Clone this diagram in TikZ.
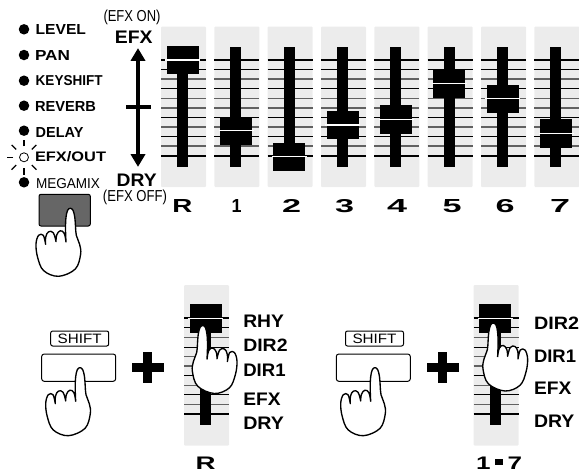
\documentclass[tikz,border=0pt]{standalone}
\usepackage{fontspec}
\usepackage{graphicx}
\usetikzlibrary{calc}
\setmainfont{Liberation Sans}
\definecolor{strip}{HTML}{ECECEC}
\definecolor{btn}{HTML}{666666}
% fitted text: width, height, text
\newcommand\fittext[3]{\resizebox{#1pt}{#2pt}{#3}}
\newcommand\hairs[2]{%
  \foreach \k/\st in {0/lthick,1/lthin,2/lgray,3/lthin,4/lgray,5/lgray,6/lthin,7/lgray,8/lthin,9/lgray,10/lthick}{
    \draw[\st] (#1,{#2+\k*9.57}) -- (#1+45,{#2+\k*9.57});
  }}
\newcommand\faderbody[4]{% x, strip top, line top, white y
  \fill[strip,rounded corners=1pt] (#1,#2) rectangle (#1+45,#2+160.5);
  \hairs{#1}{#3}
  \fill[black] (#1+16,#3-13.3) rectangle (#1+27,#3+106.7);
  \fill[black] (#1+5.6,#4-14) rectangle (#1+37.6,#4+14.4);
  \draw[white,line width=1.3] (#1+4.2,#4) -- (#1+39.2,#4);
}
\newcommand\handshape[3]{% x, y, xscale
  \begin{scope}[shift={(#1,#2)},xscale=#3]
  \draw[handline] plot[smooth,tension=.6] coordinates {(-4.3,34) (-4.8,20) (-4.3,9) (-2.7,2) (0,0) (2.7,2) (4.5,9) (5.2,18) (6,27) (9.3,36) (10.3,46) (5,60.7) (-11.7,68) (-26.7,62.3) (-32.7,49) (-34.3,35.7) (-31.7,27) (-27,27) (-24.7,36)}
   -- plot[smooth,tension=.7] coordinates {(-24.7,36) (-24.5,28.5) (-21.7,23.5) (-17,24.5) (-14.3,33.3)}
   -- plot[smooth,tension=.7] coordinates {(-14.3,33.3) (-13.5,26.5) (-10,22.5) (-6,25.2) (-4.3,34)};
  \end{scope}
}
\newcommand\plusmark[1]{%
  \fill[black] (#1,363.3) rectangle (#1+32.3,371.7);
  \fill[black] (#1+11.7,351.7) rectangle (#1+20,383.3);
}
\begin{document}
\begin{tikzpicture}[x=1pt,y=-1pt,
  lthick/.style={black,line width=1.7},
  lthin/.style={black,line width=.9},
  lgray/.style={black!62,line width=1.4},
  handline/.style={draw=black,fill=white,line width=1.35,line join=round},
  txt/.style={inner sep=0pt,outer sep=0pt,anchor=west,font=\bfseries},
  ctr/.style={inner sep=0pt,outer sep=0pt,anchor=center},
  ledon/.style={fill=black,draw=none,circle,minimum size=10.5pt,inner sep=0pt},
  ledoff/.style={draw=black,fill=white,circle,minimum size=9pt,inner sep=0pt,line width=.8},
  ray/.style={black,line width=1.2},
  keybox/.style={draw=black,fill=white,rounded corners=2.5pt,line width=1},
  glyph/.style={inner sep=0pt,outer sep=0pt,anchor=center,font=\bfseries}]
\useasboundingbox (0,0) rectangle (579,472);
% top faders
\faderbody{161}{26.5}{60}{60}
\faderbody{214.3}{26.5}{60}{130.7}
\faderbody{267.7}{26.5}{60}{156.7}
\faderbody{321}{26.5}{60}{125}
\faderbody{374.3}{26.5}{60}{119.3}
\faderbody{427.7}{26.5}{60}{83.7}
\faderbody{481}{26.5}{60}{98.7}
\faderbody{534.3}{26.5}{60}{133.3}
% fader captions
\node[glyph] (cR) at (182.5,206) {\fittext{20}{13}{R}};
\node[glyph] (c1) at (236.7,206) {\fittext{10}{13}{1}};
\node[glyph] (c2) at (291.7,206) {\fittext{19}{13}{2}};
\node[glyph] (c3) at (344.7,206) {\fittext{19}{13}{3}};
\node[glyph] (c4) at (397,206) {\fittext{20}{13}{4}};
\node[glyph] (c5) at (452,206) {\fittext{19}{13}{5}};
\node[glyph] (c6) at (505,206) {\fittext{19}{13}{6}};
\node[glyph] (c7) at (560,206) {\fittext{20}{13}{7}};
% LED list
\foreach \n/\y in {a/29.3,b/55,c/80.7,d/105.7,e/130.7,g/182.3}{
  \node[ledon] (led\n) at (24,\y) {};
}
\node[ledoff] (ledf) at (24,157.3) {};
\foreach \a in {45,90,...,315}{
  \draw[ray] ($(ledf.center)+(\a:11)$) -- ($(ledf.center)+(\a:17.5)$);
}
\node[txt] (lLevel) at (35.7,29.3) {\fittext{50.3}{10}{LEVEL}};
\node[txt] (lPan) at (35,55) {\fittext{35}{10}{PAN}};
\node[txt] (lKey) at (35.7,80.7) {\fittext{67}{10}{KEYSHIFT}};
\node[txt] (lRev) at (35,106) {\fittext{61}{10}{REVERB}};
\node[txt] (lDel) at (35.7,132) {\fittext{47.7}{10}{DELAY}};
\node[txt] (lEfx) at (35,156.7) {\fittext{71}{10}{EFX/OUT}};
\node[txt,font=\normalfont] (lMeg) at (36,183.7) {\fittext{64}{10}{MEGAMIX}};
% level arrow
\coordinate (arTop) at (138,48.3);
\coordinate (arBot) at (138,166.7);
\draw[black,line width=3.8] ($(arTop)+(0,8)$) -- ($(arBot)+(0,-8)$);
\fill[black] (arTop) -- ++(7.5,12.5) -- ++(-15,0) -- cycle;
\fill[black] (arBot) -- ++(7.5,-12.5) -- ++(-15,0) -- cycle;
\draw[black,line width=3.8] (126,107) -- (150.7,107);
\node[ctr,font=\normalfont] (tOn) at (132,17) {\fittext{57}{11.5}{(EFX ON)}};
\node[ctr,font=\bfseries] (tEfx) at (133.8,37.7) {\fittext{37.7}{12.5}{EFX}};
\node[ctr,font=\bfseries] (tDry) at (136.7,180.3) {\fittext{40}{12.5}{DRY}};
\node[ctr,font=\normalfont] (tOff) at (135,197.3) {\fittext{64}{11.5}{(EFX OFF)}};
% pressed button and hand
\draw[draw=black,fill=btn,rounded corners=2pt,line width=1] (39,194.3) rectangle (90.3,226);
\handshape{70.3}{208.3}{1}
% lower left group
\node[draw=black,rounded corners=2pt,line width=1,minimum width=58pt,minimum height=15pt,inner sep=0pt] (shA) at (79.7,338.5) {\fittext{44}{9.5}{SHIFT}};
\draw[keybox] (41.7,354) rectangle (115.7,381.3);
\handshape{80}{367.7}{1}
\plusmark{131.7}
\faderbody{184}{285}{318.3}{318.3}
\handshape{202.7}{325.5}{-1}
\node[glyph] (cRb) at (205.7,463.7) {\fittext{20}{12.5}{R}};
\node[txt] (r1) at (243.3,321) {\fittext{40.7}{12.5}{RHY}};
\node[txt] (r2) at (243.3,345) {\fittext{44.3}{12.5}{DIR2}};
\node[txt] (r3) at (243.3,370.7) {\fittext{42.3}{12.5}{DIR1}};
\node[txt] (r4) at (243.3,399) {\fittext{37.3}{12.5}{EFX}};
\node[txt] (r5) at (243.3,423.3) {\fittext{40.7}{12.5}{DRY}};
% lower right group
\node[draw=black,rounded corners=2pt,line width=1,minimum width=58pt,minimum height=15pt,inner sep=0pt] (shB) at (374.5,338.5) {\fittext{44}{9.5}{SHIFT}};
\draw[keybox] (336.3,354) rectangle (410.3,381.3);
\handshape{375}{367.7}{1}
\plusmark{426.7}
\faderbody{473.7}{285}{318.3}{318.3}
\handshape{493.3}{323}{-1}
\node[glyph] (cRange) at (499,463.7) {\fittext{46}{12.5}{1\,\rule[.3em]{.32em}{.32em}\,7}};
\node[txt] (s1) at (534,323.3) {\fittext{45}{12.5}{DIR2}};
\node[txt] (s2) at (534,356.7) {\fittext{42}{12.5}{DIR1}};
\node[txt] (s3) at (534,388.3) {\fittext{37.3}{12.5}{EFX}};
\node[txt] (s4) at (534,421) {\fittext{40.3}{12.5}{DRY}};
\end{tikzpicture}
\end{document}
